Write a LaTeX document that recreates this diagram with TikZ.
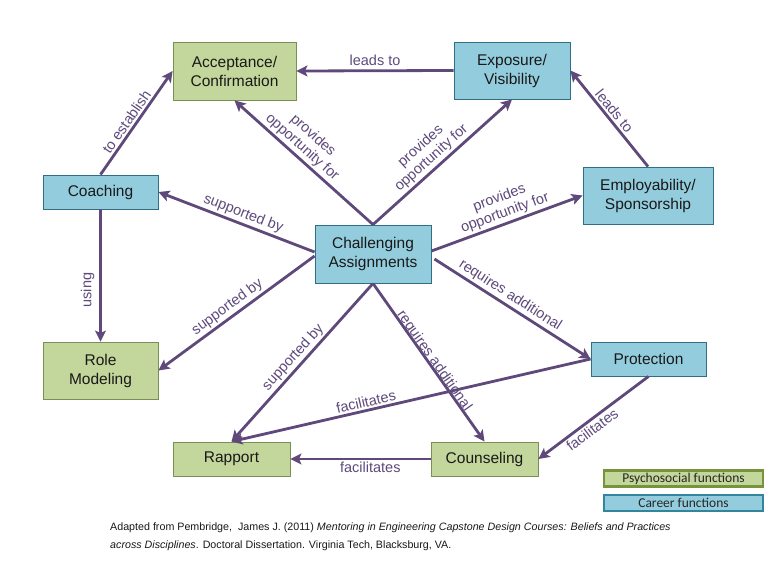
\documentclass[tikz,border=0pt]{standalone}
\usepackage{fontspec}
\setmainfont{Liberation Sans}
\newfontfamily\calibrifont{Carlito}
\usetikzlibrary{arrows.meta,calc}
\definecolor{gfill}{HTML}{C3D69B}
\definecolor{gline}{HTML}{7A8F55}
\definecolor{bfill}{HTML}{93CDDD}
\definecolor{bline}{HTML}{2F6E85}
\definecolor{arrc}{HTML}{5F497A}
\definecolor{lblc}{HTML}{5E4A7C}
\definecolor{legg}{HTML}{77933C}
\definecolor{legb}{HTML}{31859C}
\begin{document}
\begin{tikzpicture}[x=1pt,y=-1pt,
  box/.style={draw, line width=0.9pt, inner sep=0pt, align=center, text=black!90,
    font=\fontsize{15.5}{19}\selectfont},
  psy/.style={box, fill=gfill, draw=gline},
  car/.style={box, fill=bfill, draw=bline},
  arr/.style={draw=arrc, line width=2.8pt, -{Stealth[length=11pt,width=11pt,inset=2.5pt]}},
  lbl/.style={font=\fontsize{14.5}{16}\selectfont, text=lblc, sloped, inner sep=2pt, align=center},
  leg/.style={line width=2.6pt, inner sep=0pt, minimum width=159pt, minimum height=16pt,
    font=\calibrifont\fontsize{13.5}{15}\selectfont, text=black!85}]
\useasboundingbox (0,0) rectangle (783,562);
\fill[white] (0,0) rectangle (783,562);

\node[psy, minimum width=123pt, minimum height=58pt] (acc) at (234.5,71) {Acceptance/\\Confirmation};
\node[car, minimum width=116pt, minimum height=57pt] (exp) at (512,70.5) {Exposure/\\Visibility};
\node[car, minimum width=115pt, minimum height=34pt] (coach) at (100.5,192) {Coaching};
\node[car, minimum width=130pt, minimum height=57pt] (emp) at (648,195.5) {Employability/\\Sponsorship};
\node[car, minimum width=116pt, minimum height=58pt] (chal) at (373,254) {Challenging\\Assignments};
\node[psy, minimum width=115pt, minimum height=57pt] (role) at (100.5,370.5) {Role\\Modeling};
\node[car, minimum width=115pt, minimum height=34pt] (prot) at (648.5,359) {Protection};
\node[psy, minimum width=117pt, minimum height=34pt] (rap) at (231.5,459) {Rapport};
\node[psy, minimum width=107pt, minimum height=34pt] (couns) at (484.5,459) {Counseling};

\draw[arr] (exp.west) -- node[lbl, midway, above, inner sep=4pt] {leads to} (acc.east);
\draw[arr] (coach.north) -- node[lbl, pos=0.46, above] {to establish} (acc.west);
\draw[arr] (emp.north) -- node[lbl, pos=0.52, above] {leads to} (exp.east);
\draw[arr] (chal.north) -- node[lbl, pos=0.56, above] {provides\\opportunity for} (acc.south);
\draw[arr] (chal.north) -- node[lbl, pos=0.47, above] {provides\\opportunity for} (exp.south);
\draw[arr] ($(chal.east)+(0,-3)$) -- node[lbl, pos=0.51, above] {provides\\opportunity for} (emp.west);
\draw[arr] ($(chal.west)+(0,-2)$) -- node[lbl, pos=0.48, above] {supported by} (coach.east);
\draw[arr] ($(chal.west)+(0,2)$) -- node[lbl, pos=0.52, above] {supported by} (role.east);
\draw[arr] (chal.south) -- node[lbl, pos=0.51, above] {supported by} (rap.north);
\draw[arr] (chal.south) -- node[lbl, pos=0.51, above, inner sep=0pt, yshift=-3pt] {requires additional} (couns.north);
\draw[arr] ($(chal.east)+(3,5)$) -- node[lbl, pos=0.45, above] {requires additional} (prot.west);
\draw[arr] (coach.south) -- (role.north);
\node[font=\fontsize{14.5}{16}\selectfont, text=lblc, rotate=90] (usinglbl) at ($(coach.south)!0.61!(role.north)+(-13,0)$) {using};
\draw[arr] (prot.west) -- node[lbl, pos=0.62, above] {facilitates} (rap.north);
\draw[arr] (prot.south) -- node[lbl, pos=0.56, below] {facilitates} (couns.east);
\draw[arr] (couns.west) -- node[lbl, pos=0.43, below] {facilitates} (rap.east);

\node[leg, fill=gfill, draw=legg] (legpsy) at (683.5,478.5) {Psychosocial functions};
\node[leg, fill=bfill, draw=legb] (legcar) at (683.5,503) {Career functions};

\node[anchor=north west, align=left, inner sep=0pt, font=\fontsize{10.7}{18}\selectfont, text=black!90] (cap) at (110,523)
 {Adapted from Pembridge,\ \ James J. (2011) \textit{Mentoring in Engineering Capstone Design Courses: Beliefs and Practices}\\
  \textit{across Disciplines}. Doctoral Dissertation. Virginia Tech, Blacksburg, VA.};
\end{tikzpicture}
\end{document}
